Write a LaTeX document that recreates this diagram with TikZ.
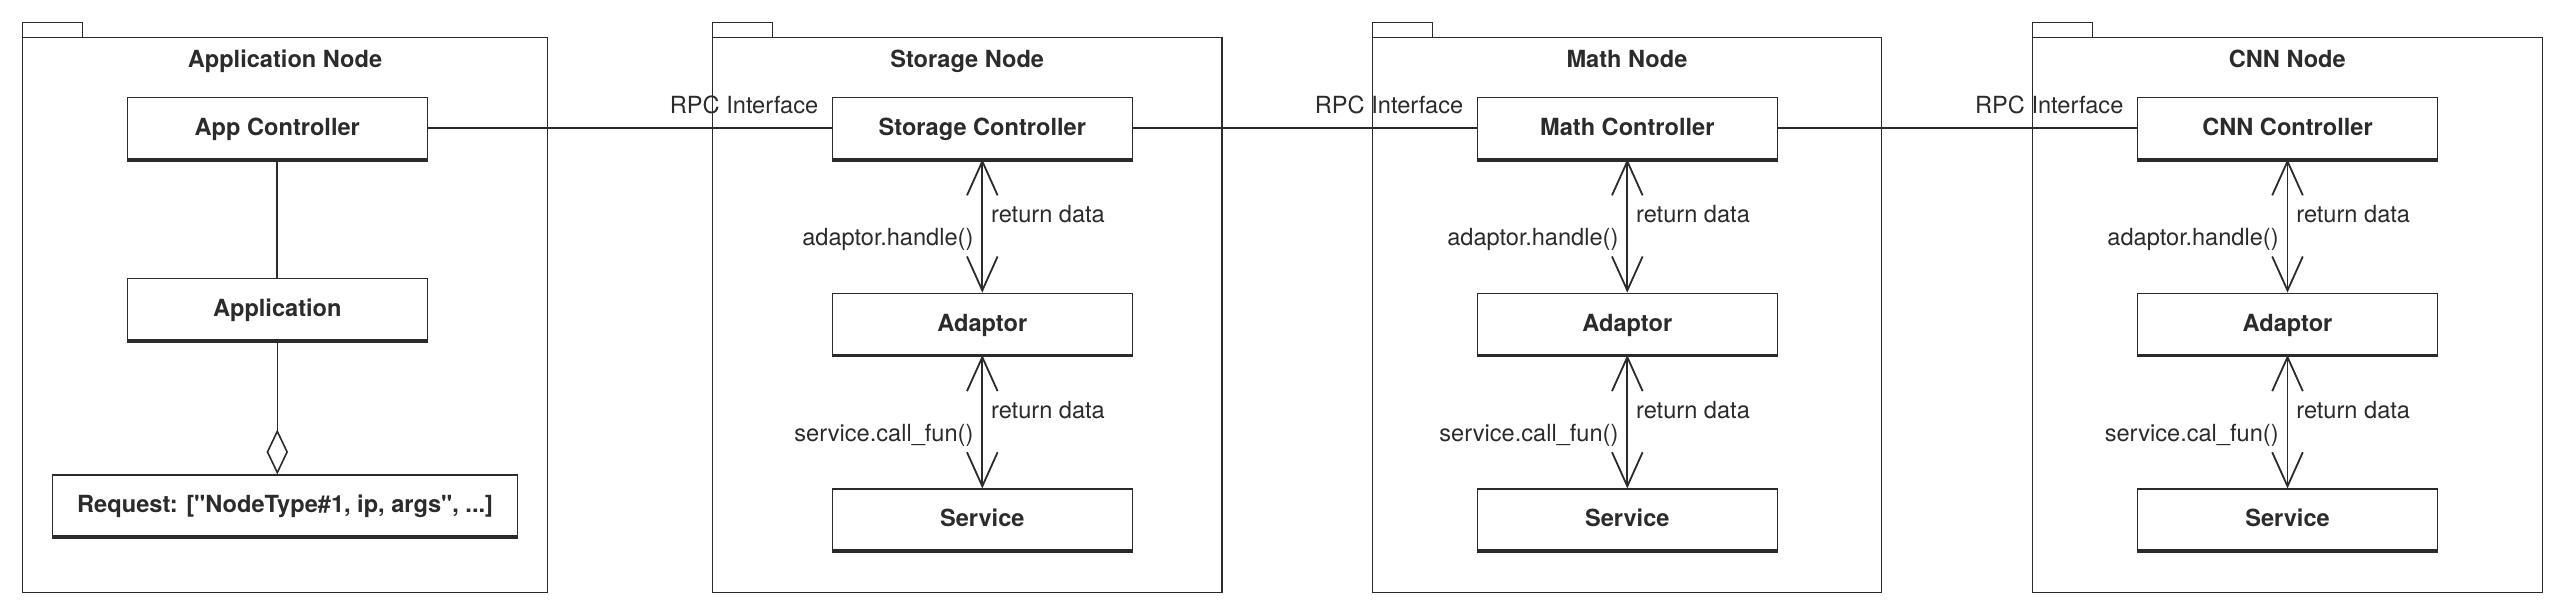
\documentclass[tikz,border=0pt]{standalone}
\usepackage{fontspec}
\setmainfont{TeX Gyre Heros}[Ligatures=TeXOff]
\usepackage{tikz}
\usetikzlibrary{positioning, arrows.meta}

\definecolor{ink}{HTML}{2B2B2B}

\begin{document}
\begin{tikzpicture}[x=0.5pt, y=-0.5pt,
    every node/.style={text=ink, font=\fontsize{11.8pt}{14pt}\selectfont},
    pkg/.style={draw=ink, line width=0.65pt},
    pkgname/.style={anchor=base, font=\fontsize{11.8pt}{14pt}\selectfont\bfseries},
    box/.style={draw=ink, line width=0.65pt, fill=white, minimum width=150pt, minimum height=30.5pt,
        inner sep=0pt, text height=0.72em, text depth=0pt, font=\fontsize{11.8pt}{14pt}\selectfont\bfseries},
    link/.style={draw=ink, line width=1pt},
    call/.style={draw=ink, line width=0.9pt,
        {Straight Barb[length=17pt, width=15.3pt]}-{Straight Barb[length=17pt, width=15.3pt]}},
    rpc/.style={pos=1, anchor=base east, inner sep=0pt, xshift=-6.25pt, yshift=7.15pt},
    ret/.style={pos=0.41, anchor=west, inner sep=0pt, xshift=4pt},
    fn/.style={pos=0.6, anchor=east, inner sep=0pt, xshift=-4pt}]

    \useasboundingbox (0,0) rectangle (2565,615);

    % packages
    \draw[pkg] (22.7,22.4) rectangle (82.7,37.3);
    \draw[pkg] (22.7,37.3) rectangle (547.3,592.2);
    \node[pkgname] (appn) at (285,68) {Application Node};

    \draw[pkg] (712.3,22.4) rectangle (772.3,37.3);
    \draw[pkg] (712.3,37.3) rectangle (1222,592.2);
    \node[pkgname] (stn) at (967.2,68) {Storage Node};

    \draw[pkg] (1372.3,22.4) rectangle (1432.3,37.3);
    \draw[pkg] (1372.3,37.3) rectangle (1881.7,592.2);
    \node[pkgname] (man) at (1627,68) {Math Node};

    \draw[pkg] (2032.3,22.4) rectangle (2092.3,37.3);
    \draw[pkg] (2032.3,37.3) rectangle (2542.3,592.2);
    \node[pkgname] (cnn) at (2287.3,68) {CNN Node};

    % application node
    \node[box] (appc) at (277.3,128) {App Controller};
    \node[box, below=59.4pt of appc] (app) {Application};
    \node[box, minimum width=232.7pt, below=67.1pt of app, xshift=3.9pt] (req)
        {Request: ["NodeType\#1, ip, args", ...]};

    % storage node
    \node[box] (stc) at (982.3,128) {Storage Controller};
    \node[box, below=66.75pt of stc] (sta) {Adaptor};
    \node[box, below=66.75pt of sta] (sts) {Service};

    % math node
    \node[box] (mac) at (1627.3,128) {Math Controller};
    \node[box, below=66.75pt of mac] (maa) {Adaptor};
    \node[box, below=66.75pt of maa] (mas) {Service};

    % cnn node
    \node[box] (cnc) at (2287.5,128) {CNN Controller};
    \node[box, below=66.75pt of cnc] (cna) {Adaptor};
    \node[box, below=66.75pt of cna] (cns) {Service};

    \foreach \n in {appc,app,req,stc,sta,sts,mac,maa,mas,cnc,cna,cns}
      \draw[ink, line width=1.7pt] ([yshift=-0.4pt]\n.south west) -- ([yshift=-0.4pt]\n.south east);

    \draw[link] (appc) -- (app);
    \draw[draw=ink, line width=0.8pt, -{Diamond[open, length=22.5pt, width=10.7pt]}] (app) -- (app.south |- req.north);

    \draw[link] (appc) -- node[rpc] {RPC Interface} (stc);
    \draw[link] (stc) -- node[rpc] {RPC Interface} (mac);
    \draw[link] (mac) -- node[rpc] {RPC Interface} (cnc);

    \draw[call] (stc) -- node[ret] {return data} node[fn] {adaptor.handle()} (sta);
    \draw[call] (sta) -- node[ret] {return data} node[fn] {service.call\_fun()} (sts);
    \draw[call] (mac) -- node[ret] {return data} node[fn] {adaptor.handle()} (maa);
    \draw[call] (maa) -- node[ret] {return data} node[fn] {service.call\_fun()} (mas);
    \draw[call] (cnc) -- node[ret] {return data} node[fn] {adaptor.handle()} (cna);
    \draw[call] (cna) -- node[ret] {return data} node[fn] {service.cal\_fun()} (cns);
\end{tikzpicture}
\end{document}
